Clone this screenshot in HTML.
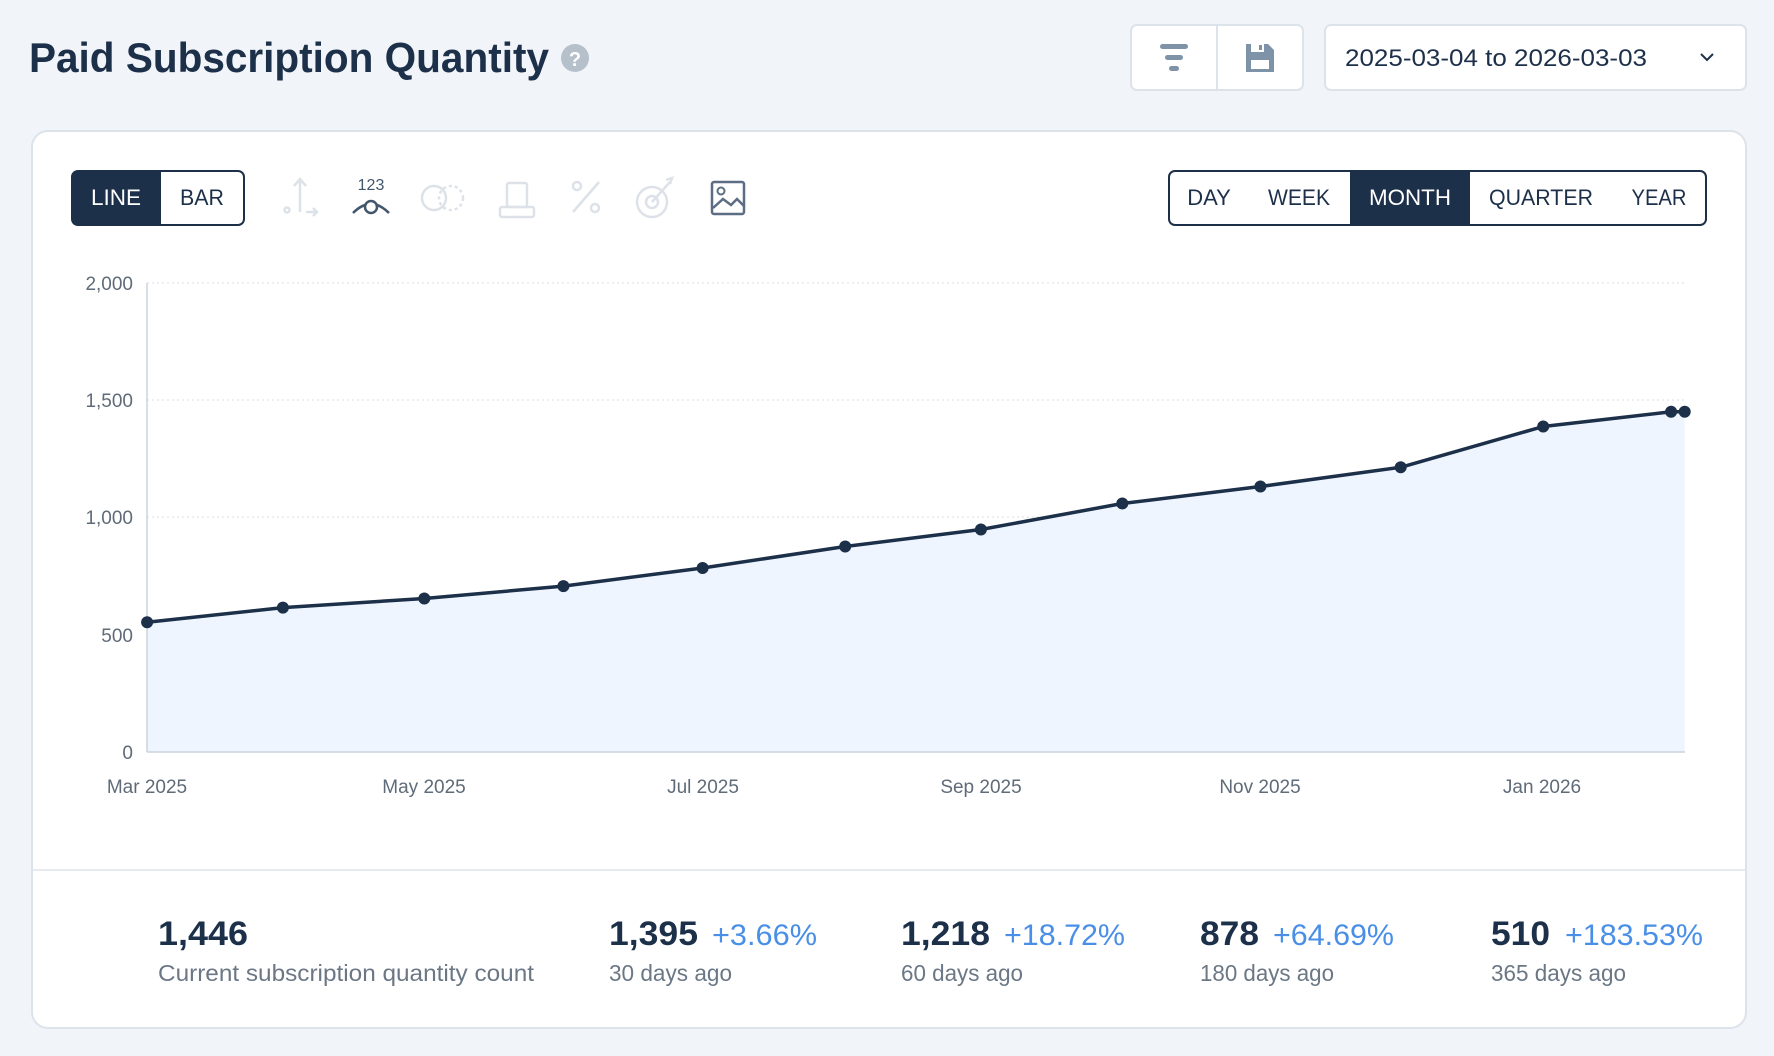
<!DOCTYPE html>
<html><head><meta charset="utf-8"><style>
html,body{margin:0;padding:0;background:#f1f4f9}
svg{display:block}
text{font-family:"Liberation Sans",sans-serif}
</style></head><body>
<svg width="1774" height="1056" viewBox="0 0 1774 1056" xmlns="http://www.w3.org/2000/svg">
<rect width="1774" height="1056" fill="#f1f4f9"/>
<text x="29" y="72" font-size="42" font-weight="bold" fill="#1d3049" textLength="520" lengthAdjust="spacingAndGlyphs">Paid Subscription Quantity</text>
<circle cx="575" cy="58" r="14" fill="#b5c0cb"/>
<text x="575" y="66" font-size="20" font-weight="bold" fill="#fff" text-anchor="middle">?</text>
<rect x="1131" y="25" width="172" height="65" rx="6" fill="#fff" stroke="#dde3ea" stroke-width="2"/>
<line x1="1217" y1="25" x2="1217" y2="90" stroke="#dde3ea" stroke-width="2"/>
<rect x="1160" y="44" width="28" height="5" rx="2.5" fill="#7f93a8"/>
<rect x="1165" y="55" width="18" height="5" rx="2.5" fill="#7f93a8"/>
<rect x="1169" y="66" width="10" height="5" rx="2.5" fill="#7f93a8"/>
<path d="M1246 44h22l6 6v22h-28z" fill="#7f93a8"/>
<rect x="1251" y="44" width="13" height="8" fill="#fff"/>
<rect x="1259" y="45" width="3" height="5" fill="#7f93a8"/>
<rect x="1251" y="60" width="18" height="9" fill="#fff"/>
<rect x="1325" y="25" width="421" height="65" rx="6" fill="#fff" stroke="#dde3ea" stroke-width="2"/>
<text x="1345" y="66" font-size="24" fill="#1d3049" textLength="302" lengthAdjust="spacingAndGlyphs">2025-03-04 to 2026-03-03</text>
<path d="M1701 54l6 6 6-6" fill="none" stroke="#1d3049" stroke-width="2"/>
<rect x="32" y="131" width="1714" height="897" rx="16" fill="#fff" stroke="#dde3ea" stroke-width="2"/>
<line x1="33" y1="870" x2="1745" y2="870" stroke="#e6eaef" stroke-width="2"/>
<rect x="72" y="171" width="172" height="54" rx="6" fill="#fff" stroke="#1d3049" stroke-width="2"/>
<path d="M78 171h83v54h-83a6 6 0 0 1-6-6v-42a6 6 0 0 1 6-6z" fill="#1d3049"/>
<text x="116" y="205" font-size="22" fill="#fff" text-anchor="middle" textLength="50" lengthAdjust="spacingAndGlyphs">LINE</text>
<text x="202" y="205" font-size="22" fill="#1d3049" text-anchor="middle" textLength="44" lengthAdjust="spacingAndGlyphs">BAR</text>
<g fill="none" stroke="#dde2e8" stroke-width="2.5">
<path d="M300 180v32M294 186l6-7 6 7"/><circle cx="287" cy="210" r="2.5"/><path d="M306 212h10M313 208l4 4-4 4"/>
<circle cx="434" cy="198" r="12"/><circle cx="451" cy="198" r="12" stroke-dasharray="3 3"/>
<rect x="500" y="207" width="34" height="10" rx="2"/><rect x="507" y="183" width="20" height="24" rx="2"/>
<path d="M573 212l26-30"/><circle cx="577" cy="186" r="4"/><circle cx="595" cy="208" r="4"/>
<circle cx="652" cy="202" r="15"/><circle cx="652" cy="202" r="6"/><path d="M652 202l18-20M666 180l6-2-2 6"/>
</g>
<text x="371" y="190" font-size="16" fill="#42566c" text-anchor="middle">123</text>
<path d="M353 213q18-18 36 0" fill="none" stroke="#42566c" stroke-width="2.5"/>
<circle cx="371" cy="207" r="6" fill="#fff" stroke="#42566c" stroke-width="2.5"/>
<rect x="712" y="182" width="32" height="32" rx="2" fill="none" stroke="#5b6e83" stroke-width="2.5"/>
<circle cx="721" cy="191" r="3.5" fill="none" stroke="#5b6e83" stroke-width="2"/>
<path d="M713 208l10-9 8 6 6-6 7 7" fill="none" stroke="#5b6e83" stroke-width="2.5"/>
<rect x="1169" y="171" width="537" height="54" rx="6" fill="#fff" stroke="#1d3049" stroke-width="2"/>
<rect x="1350" y="171" width="120" height="54" fill="#1d3049"/>
<g font-size="22" text-anchor="middle" fill="#1d3049">
<text x="1209" y="205">DAY</text><text x="1299" y="205" textLength="62" lengthAdjust="spacingAndGlyphs">WEEK</text>
<text x="1410" y="205" fill="#fff" textLength="82" lengthAdjust="spacingAndGlyphs">MONTH</text>
<text x="1541" y="205" textLength="104" lengthAdjust="spacingAndGlyphs">QUARTER</text><text x="1659" y="205" textLength="55" lengthAdjust="spacingAndGlyphs">YEAR</text>
</g>
<g stroke="#d9dee4" stroke-width="1" stroke-dasharray="2 3">
<line x1="147" y1="283" x2="1685" y2="283"/><line x1="147" y1="400" x2="1685" y2="400"/>
<line x1="147" y1="517" x2="1685" y2="517"/><line x1="147" y1="635" x2="1685" y2="635"/>
</g>
<polygon points="147.1,622.3 282.9,607.6 424.3,598.5 563.4,586.1 702.6,568 845.2,546.5 980.9,529.5 1122.3,503.5 1260.4,486.5 1400.7,467.3 1543.2,426.5 1671.1,411.8 1684.7,411.8 1684.7,752 147.1,752" fill="#eef5fe"/>
<line x1="147" y1="283" x2="147" y2="752" stroke="#ccd3db" stroke-width="1.5"/>
<line x1="147" y1="752" x2="1685" y2="752" stroke="#ccd3db" stroke-width="1.5"/>
<polyline points="147.1,622.3 282.9,607.6 424.3,598.5 563.4,586.1 702.6,568 845.2,546.5 980.9,529.5 1122.3,503.5 1260.4,486.5 1400.7,467.3 1543.2,426.5 1671.1,411.8 1684.7,411.8" fill="none" stroke="#1d3049" stroke-width="3.5" stroke-linejoin="round"/>
<g fill="#1d3049">
<circle cx="147.1" cy="622.3" r="6"/><circle cx="282.9" cy="607.6" r="6"/><circle cx="424.3" cy="598.5" r="6"/><circle cx="563.4" cy="586.1" r="6"/><circle cx="702.6" cy="568" r="6"/><circle cx="845.2" cy="546.5" r="6"/><circle cx="980.9" cy="529.5" r="6"/><circle cx="1122.3" cy="503.5" r="6"/><circle cx="1260.4" cy="486.5" r="6"/><circle cx="1400.7" cy="467.3" r="6"/><circle cx="1543.2" cy="426.5" r="6"/><circle cx="1671.1" cy="411.8" r="6"/><circle cx="1684.7" cy="411.8" r="6"/>
</g>
<g font-size="19" fill="#5f6b78" text-anchor="end">
<text x="133" y="290">2,000</text><text x="133" y="407">1,500</text><text x="133" y="524">1,000</text><text x="133" y="642">500</text><text x="133" y="759">0</text>
</g>
<g font-size="19" fill="#5f6b78" text-anchor="middle">
<text x="147" y="793">Mar 2025</text><text x="424" y="793">May 2025</text><text x="703" y="793">Jul 2025</text><text x="981" y="793">Sep 2025</text><text x="1260" y="793">Nov 2025</text><text x="1542" y="793">Jan 2026</text>
</g>
<g font-size="34" fill="#1d3049" font-weight="bold">
<text x="158" y="945" textLength="90" lengthAdjust="spacingAndGlyphs">1,446</text>
<text x="609" y="945" textLength="89" lengthAdjust="spacingAndGlyphs">1,395</text>
<text x="901" y="945" textLength="89" lengthAdjust="spacingAndGlyphs">1,218</text>
<text x="1200" y="945" textLength="59" lengthAdjust="spacingAndGlyphs">878</text>
<text x="1491" y="945" textLength="59" lengthAdjust="spacingAndGlyphs">510</text>
</g>
<g font-size="30" fill="#4a8fe7">
<text x="712" y="945" textLength="105" lengthAdjust="spacingAndGlyphs">+3.66%</text>
<text x="1004" y="945" textLength="121" lengthAdjust="spacingAndGlyphs">+18.72%</text>
<text x="1273" y="945" textLength="121" lengthAdjust="spacingAndGlyphs">+64.69%</text>
<text x="1565" y="945" textLength="138" lengthAdjust="spacingAndGlyphs">+183.53%</text>
</g>
<g font-size="23" fill="#6b7785">
<text x="158" y="981" textLength="376" lengthAdjust="spacingAndGlyphs">Current subscription quantity count</text>
<text x="609" y="981" textLength="123" lengthAdjust="spacingAndGlyphs">30 days ago</text>
<text x="901" y="981" textLength="122" lengthAdjust="spacingAndGlyphs">60 days ago</text>
<text x="1200" y="981" textLength="134" lengthAdjust="spacingAndGlyphs">180 days ago</text>
<text x="1491" y="981" textLength="135" lengthAdjust="spacingAndGlyphs">365 days ago</text>
</g>
</svg>
</body></html>
